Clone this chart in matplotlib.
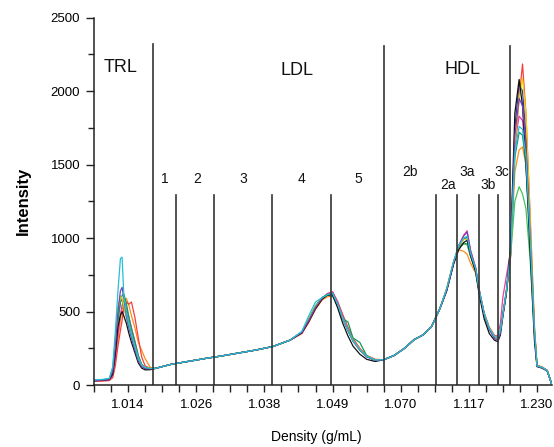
import matplotlib
matplotlib.use("Agg")
import matplotlib.pyplot as plt
from matplotlib.ticker import MultipleLocator, FixedLocator

plt.rcParams['font.family'] = ['Liberation Sans', 'DejaVu Sans']

# Fraction position along the gradient (tick units) and density labels
tick_pos = [2, 6, 10, 14, 18, 22, 26]
tick_labels = ['1.014', '1.026', '1.038', '1.049', '1.070', '1.117', '1.230']

# Sample positions for each part of the profile
x_trl = [0.0, 0.5, 0.9, 1.1, 1.25, 1.4, 1.55, 1.65, 1.75, 1.9, 2.05, 2.2, 2.4, 2.6, 2.8, 3.0, 3.3]
x_idl = [3.6, 4.5, 5.5, 6.5, 7.5, 8.5, 9.5, 10.5, 11.5]
x_ldl = [12.2, 12.6, 13.0, 13.4, 13.7, 14.0, 14.3, 14.6, 14.9, 15.2, 15.6, 16.0, 16.5]
x_mid = [17.0, 17.6, 18.2, 18.8, 19.3, 19.8, 20.3]
x_hdl = [20.7, 21.1, 21.4, 21.7, 21.9, 22.1, 22.4, 22.6, 22.9, 23.2, 23.5, 23.7, 23.85,
         24.0, 24.2, 24.45, 24.7, 24.95, 25.15, 25.35, 25.6, 25.85, 26.0, 26.3, 26.6, 26.88]

# Shared stretches where all samples overlap
y_idl = [113, 140, 160, 180, 198, 218, 238, 262, 305]
y_mid = [172, 200, 248, 310, 340, 395, 520]

# Per-sample TRL region
trl = {
    'orange':     [28, 30, 35, 60, 160, 310, 440, 510, 565, 590, 540, 470, 390, 290, 235, 180, 120],
    'red':        [25, 27, 30, 50, 130, 260, 370, 440, 525, 565, 550, 565, 460, 320, 190, 130, 113],
    'magenta':    [28, 30, 36, 65, 180, 340, 480, 545, 560, 525, 460, 390, 300, 200, 138, 117, 110],
    'blue':       [30, 32, 38, 85, 240, 450, 565, 585, 550, 490, 410, 340, 260, 180, 130, 112, 108],
    'green':      [30, 33, 40, 85, 230, 430, 565, 610, 620, 555, 460, 380, 290, 200, 140, 120, 112],
    'lightgreen': [33, 35, 45, 115, 310, 525, 605, 585, 530, 460, 390, 330, 260, 185, 135, 118, 113],
    'yellow':     [32, 34, 42, 105, 290, 505, 600, 590, 550, 470, 400, 330, 250, 175, 130, 116, 112],
    'black':      [30, 32, 38, 75, 210, 390, 475, 500, 470, 420, 350, 290, 220, 150, 115, 103, 104],
    'purple':     [30, 33, 40, 95, 260, 490, 640, 665, 590, 470, 390, 320, 240, 165, 125, 113, 110],
    'cyan':       [35, 38, 45, 125, 360, 630, 860, 870, 610, 490, 410, 340, 260, 180, 135, 120, 112],
}

# Per-sample LDL region
ldl = {
    'orange':     [350, 425, 515, 580, 600, 605, 560, 475, 392, 318, 250, 200, 175],
    'red':        [352, 428, 520, 588, 622, 632, 568, 478, 390, 315, 248, 200, 174],
    'magenta':    [355, 432, 525, 590, 622, 635, 565, 470, 385, 310, 245, 198, 172],
    'blue':       [358, 438, 528, 590, 616, 624, 548, 452, 370, 300, 238, 193, 168],
    'green':      [362, 448, 540, 598, 612, 605, 535, 450, 430, 320, 290, 200, 172],
    'lightgreen': [362, 445, 535, 595, 618, 620, 545, 450, 370, 300, 238, 194, 170],
    'yellow':     [360, 440, 532, 592, 615, 622, 548, 455, 375, 305, 242, 196, 170],
    'black':      [355, 432, 520, 585, 612, 615, 525, 420, 335, 265, 210, 175, 160],
    'purple':     [358, 438, 528, 592, 618, 628, 550, 455, 372, 300, 238, 192, 168],
    'cyan':       [365, 470, 565, 595, 615, 625, 550, 455, 372, 302, 240, 196, 170],
}

# Per-sample HDL region and final dense peak
hdl = {
    'orange':     [660, 840, 920, 910, 890, 830, 760, 640, 490, 395, 340, 325, 375, 485, 630, 870, 1450, 1600, 1620, 1500, 1050, 380, 135, 122, 100, 0],
    'red':        [650, 830, 945, 995, 1005, 900, 790, 650, 485, 385, 330, 318, 370, 480, 630, 880, 1600, 1950, 2185, 1850, 1150, 400, 135, 122, 100, 0],
    'magenta':    [648, 835, 950, 1020, 1050, 920, 800, 655, 490, 390, 335, 335, 420, 600, 740, 910, 1650, 1830, 1800, 1600, 1000, 360, 130, 120, 98, 0],
    'blue':       [645, 828, 940, 995, 1002, 890, 785, 642, 480, 380, 325, 315, 368, 480, 632, 900, 1750, 2050, 2000, 1700, 1050, 360, 128, 118, 97, 0],
    'green':      [650, 830, 935, 965, 960, 880, 780, 640, 482, 382, 328, 316, 370, 480, 630, 890, 1550, 1720, 1700, 1500, 980, 360, 130, 120, 98, 0],
    'lightgreen': [652, 832, 935, 960, 955, 875, 778, 640, 483, 383, 330, 318, 372, 482, 630, 880, 1250, 1350, 1300, 1200, 850, 340, 128, 118, 97, 0],
    'yellow':     [650, 835, 945, 990, 995, 890, 785, 645, 485, 385, 330, 318, 372, 482, 632, 880, 1650, 1950, 2088, 1850, 1120, 390, 132, 120, 98, 0],
    'black':      [640, 820, 920, 970, 985, 880, 770, 620, 450, 350, 305, 295, 340, 470, 620, 950, 1850, 2080, 1900, 1500, 900, 300, 125, 115, 95, 0],
    'purple':     [645, 830, 945, 1015, 1040, 910, 795, 650, 482, 378, 318, 302, 355, 480, 640, 905, 1700, 1950, 1900, 1650, 1020, 360, 128, 118, 96, 0],
    'cyan':       [655, 838, 950, 1000, 1012, 895, 790, 648, 486, 386, 332, 320, 372, 482, 635, 890, 1580, 1760, 1740, 1550, 1000, 370, 130, 120, 98, 0],
}

colors = {
    'orange': '#ff8a1e', 'red': '#f5403a', 'magenta': '#e0449c', 'blue': '#2f3f9e',
    'green': '#0e9a5e', 'lightgreen': '#46c25a', 'yellow': '#f2d200', 'black': '#111111',
    'purple': '#7b3fb6', 'cyan': '#25bfd6',
}

# Fraction boundaries: (position, top of line)
bounds_tall = [(3.48, 2320), (17.04, 2305), (24.41, 2305)]
bounds_short = [4.81, 7.06, 10.46, 13.89, 20.07, 21.29, 22.61, 23.69]
short_top = 1290

class_labels = [('TRL', 1.58, 2160), ('LDL', 11.9, 2140), ('HDL', 21.6, 2145)]
sub_labels = [('1', 4.17, 1405), ('2', 6.04, 1405), ('3', 8.74, 1405), ('4', 12.15, 1405),
              ('5', 15.49, 1405), ('2b', 18.54, 1450), ('2a', 20.77, 1361),
              ('3a', 21.89, 1450), ('3b', 23.12, 1361), ('3c', 23.94, 1450)]

fig = plt.figure(figsize=(5.54, 4.47), dpi=100)
ax = fig.add_axes([94 / 554, 62 / 447, 458 / 554, 367.3 / 447])

x_all = x_trl + x_idl + x_ldl + x_mid + x_hdl
for name in trl:
    y_all = trl[name] + y_idl + ldl[name] + y_mid + hdl[name]
    ax.plot(x_all, y_all, color=colors[name], lw=0.9)

for xb, top in bounds_tall:
    ax.plot([xb, xb], [0, top], color='#333333', lw=1.2)
for xb in bounds_short:
    ax.plot([xb, xb], [0, short_top], color='#333333', lw=1.2)

for txt, xx, yy in class_labels:
    ax.text(xx, yy, txt, fontsize=13, ha='center', va='center', color='#111111')
for txt, xx, yy in sub_labels:
    ax.text(xx, yy, txt, fontsize=10, ha='center', va='center', color='#111111')

ax.set_xlim(0, 26.88)
ax.set_ylim(0, 2500)
ax.spines['top'].set_visible(False)
ax.spines['right'].set_visible(False)
for s in ('left', 'bottom'):
    ax.spines[s].set_linewidth(1.1)
    ax.spines[s].set_color('#222222')

ax.xaxis.set_major_locator(FixedLocator(tick_pos))
ax.set_xticklabels(tick_labels)
ax.xaxis.set_minor_locator(MultipleLocator(1))
ax.yaxis.set_major_locator(MultipleLocator(500))
ax.yaxis.set_minor_locator(MultipleLocator(250))
ax.tick_params(axis='both', which='both', direction='out', color='#222222', width=1.0)
ax.tick_params(axis='x', which='both', length=5, pad=5, labelsize=9.5)
ax.tick_params(axis='y', which='major', length=6, pad=4, labelsize=9.5)
ax.tick_params(axis='y', which='minor', length=4)

ax.set_ylabel('Intensity', fontsize=12, fontweight='bold', labelpad=14)
fig.text(316 / 554, 1 - 437 / 447, 'Density (g/mL)', fontsize=10, ha='center', va='center')

fig.savefig('out.png', dpi=100)
